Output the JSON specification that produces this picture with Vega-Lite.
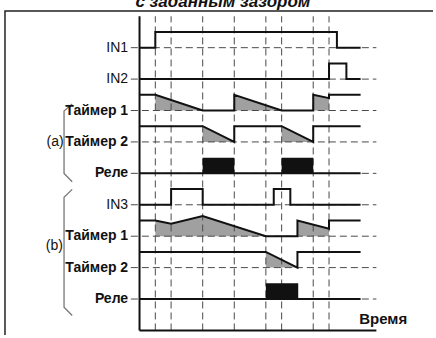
{
  "$schema": "https://vega.github.io/schema/vega-lite/v6.json",
  "width": 436,
  "height": 338,
  "autosize": {"type": "fit", "contains": "padding"},
  "padding": 0,
  "background": "white",
  "config": {"view": {"stroke": null}},
  "datasets": {
    "sig": [
      {"s":"IN1","i":0,"t":0,"v":16},{"s":"IN1","i":1,"t":1,"v":16},{"s":"IN1","i":2,"t":1,"v":17},{"s":"IN1","i":3,"t":12.5,"v":17},{"s":"IN1","i":4,"t":12.5,"v":16},{"s":"IN1","i":5,"t":14,"v":16},
      {"s":"IN2","i":0,"t":0,"v":14},{"s":"IN2","i":1,"t":12,"v":14},{"s":"IN2","i":2,"t":12,"v":15},{"s":"IN2","i":3,"t":13.1,"v":15},{"s":"IN2","i":4,"t":13.1,"v":14},{"s":"IN2","i":5,"t":14,"v":14},
      {"s":"T1a","i":0,"t":0,"v":13},{"s":"T1a","i":1,"t":1,"v":13},{"s":"T1a","i":2,"t":4,"v":12},{"s":"T1a","i":3,"t":6,"v":12},{"s":"T1a","i":4,"t":6,"v":13},{"s":"T1a","i":5,"t":9,"v":12},{"s":"T1a","i":6,"t":11,"v":12},{"s":"T1a","i":7,"t":11,"v":13},{"s":"T1a","i":8,"t":12,"v":12.79},{"s":"T1a","i":9,"t":12,"v":13},{"s":"T1a","i":10,"t":14,"v":13},
      {"s":"T2a","i":0,"t":0,"v":11},{"s":"T2a","i":1,"t":4,"v":11},{"s":"T2a","i":2,"t":6,"v":10},{"s":"T2a","i":3,"t":6,"v":11},{"s":"T2a","i":4,"t":9,"v":11},{"s":"T2a","i":5,"t":11,"v":10},{"s":"T2a","i":6,"t":11,"v":11},{"s":"T2a","i":7,"t":14,"v":11},
      {"s":"Ra","i":0,"t":0,"v":8},{"s":"Ra","i":1,"t":14,"v":8},
      {"s":"IN3","i":0,"t":0,"v":6},{"s":"IN3","i":1,"t":2,"v":6},{"s":"IN3","i":2,"t":2,"v":7},{"s":"IN3","i":3,"t":4,"v":7},{"s":"IN3","i":4,"t":4,"v":6},{"s":"IN3","i":5,"t":8.5,"v":6},{"s":"IN3","i":6,"t":8.5,"v":7},{"s":"IN3","i":7,"t":9.55,"v":7},{"s":"IN3","i":8,"t":9.55,"v":6},{"s":"IN3","i":9,"t":14,"v":6},
      {"s":"T1b","i":0,"t":0,"v":5},{"s":"T1b","i":1,"t":1,"v":5},{"s":"T1b","i":2,"t":2,"v":4.79},{"s":"T1b","i":3,"t":4,"v":5.28},{"s":"T1b","i":4,"t":8,"v":4},{"s":"T1b","i":5,"t":10,"v":4},{"s":"T1b","i":6,"t":10,"v":5},{"s":"T1b","i":7,"t":12,"v":4.48},{"s":"T1b","i":8,"t":12,"v":5},{"s":"T1b","i":9,"t":14,"v":5},
      {"s":"T2b","i":0,"t":0,"v":3},{"s":"T2b","i":1,"t":8,"v":3},{"s":"T2b","i":2,"t":10,"v":2},{"s":"T2b","i":3,"t":10,"v":3},{"s":"T2b","i":4,"t":14,"v":3},
      {"s":"Rb","i":0,"t":0,"v":0},{"s":"Rb","i":1,"t":14,"v":0}
    ],
    "hatch": [
      {"g":"A1","t":1,"v":13,"b":12},{"g":"A1","t":4,"v":12,"b":12},
      {"g":"A2","t":6,"v":13,"b":12},{"g":"A2","t":9,"v":12,"b":12},
      {"g":"A3","t":11,"v":13,"b":12},{"g":"A3","t":12,"v":12.79,"b":12},
      {"g":"B1","t":4,"v":11,"b":10},{"g":"B1","t":6,"v":10,"b":10},
      {"g":"B2","t":9,"v":11,"b":10},{"g":"B2","t":11,"v":10,"b":10},
      {"g":"C1","t":1,"v":5,"b":4},{"g":"C1","t":2,"v":4.79,"b":4},{"g":"C1","t":4,"v":5.28,"b":4},{"g":"C1","t":8,"v":4,"b":4},
      {"g":"C2","t":10,"v":5,"b":4},{"g":"C2","t":12,"v":4.48,"b":4},
      {"g":"D1","t":8,"v":3,"b":2},{"g":"D1","t":10,"v":2,"b":2}
    ],
    "relay": [
      {"t":4,"t2":6,"v":8,"v2":9},
      {"t":9,"t2":11,"v":8,"v2":9},
      {"t":8,"t2":10.05,"v":0,"v2":1}
    ],
    "levels": [
      {"name":"IN1","v":16,"bold":false},
      {"name":"IN2","v":14,"bold":false},
      {"name":"Таймер 1","v":12,"bold":true},
      {"name":"Таймер 2","v":10,"bold":true},
      {"name":"Реле","v":8,"bold":true},
      {"name":"IN3","v":6,"bold":false},
      {"name":"Таймер 1","v":4,"bold":true},
      {"name":"Таймер 2","v":2,"bold":true},
      {"name":"Реле","v":0,"bold":true}
    ],
    "ticks": [{"t":1},{"t":2},{"t":4},{"t":6},{"t":8},{"t":9},{"t":11},{"t":12}],
    "axes": [{"t":0,"t2":0,"v":-2,"v2":18},{"t":0,"t2":15,"v":-2,"v2":-2}],
    "braces": [
      {"g":"a","i":0,"t":-4.264,"v":12.41},{"g":"a","i":1,"t":-4.78,"v":11.97},{"g":"a","i":2,"t":-4.78,"v":7.99},{"g":"a","i":3,"t":-4.264,"v":7.47},
      {"g":"b","i":0,"t":-4.264,"v":6.98},{"g":"b","i":1,"t":-4.78,"v":6.48},{"g":"b","i":2,"t":-4.78,"v":-0.52},{"g":"b","i":3,"t":-4.264,"v":-1.05}
    ],
    "frame": [
      {"i":0,"t":-8.52,"v":-2.29},{"i":1,"t":-8.52,"v":18.34},{"i":2,"t":18.585,"v":18.34}
    ],
    "notes": [
      {"text":"(a)","t":-4.8,"v":10},
      {"text":"(b)","t":-4.85,"v":3.35}
    ]
  },
  "layer": [
    {
      "data": {"name":"frame"},
      "mark": {"type":"line","color":"#222222","strokeWidth":1.5},
      "encoding": {
        "x": {"field":"t","type":"quantitative","scale":{"domain":[-8.836,18.585],"nice":false,"zero":false},"axis":null},
        "y": {"field":"v","type":"quantitative","scale":{"domain":[-2.29,19.035],"nice":false,"zero":false},"axis":null},
        "order":{"field":"i","type":"quantitative"}
      }
    },
    {
      "data": {"name":"hatch"},
      "mark": {"type":"area","color":"#a0a0a0","opacity":1},
      "encoding": {
        "x": {"field":"t","type":"quantitative","scale":{"domain":[-8.836,18.585],"nice":false,"zero":false},"axis":null},
        "y": {"field":"v","type":"quantitative","scale":{"domain":[-2.29,19.035],"nice":false,"zero":false},"axis":null},
        "y2":{"field":"b"},
        "detail":{"field":"g","type":"nominal"}
      }
    },
    {
      "data": {"name":"levels"},
      "mark": {"type":"rule","color":"#4a4a4a","strokeWidth":1,"strokeDash":[7,4]},
      "encoding": {
        "x":{"datum":-0.55,"type":"quantitative","scale":{"domain":[-8.836,18.585],"nice":false,"zero":false},"axis":null},
        "x2":{"datum":15},
        "y": {"field":"v","type":"quantitative","scale":{"domain":[-2.29,19.035],"nice":false,"zero":false},"axis":null}
      }
    },
    {
      "data": {"name":"ticks"},
      "mark": {"type":"rule","color":"#4a4a4a","strokeWidth":1,"strokeDash":[7,4]},
      "encoding": {
        "x": {"field":"t","type":"quantitative","scale":{"domain":[-8.836,18.585],"nice":false,"zero":false},"axis":null},
        "y":{"datum":-2,"type":"quantitative","scale":{"domain":[-2.29,19.035],"nice":false,"zero":false},"axis":null},
        "y2":{"datum":18}
      }
    },
    {
      "data": {"name":"axes"},
      "mark": {"type":"rule","color":"#111111","strokeWidth":2},
      "encoding": {
        "x": {"field":"t","type":"quantitative","scale":{"domain":[-8.836,18.585],"nice":false,"zero":false},"axis":null},
        "y": {"field":"v","type":"quantitative","scale":{"domain":[-2.29,19.035],"nice":false,"zero":false},"axis":null},
        "x2":{"field":"t2"},
        "y2":{"field":"v2"}
      }
    },
    {
      "data": {"name":"relay"},
      "mark": {"type":"rect","color":"#111111"},
      "encoding": {
        "x": {"field":"t","type":"quantitative","scale":{"domain":[-8.836,18.585],"nice":false,"zero":false},"axis":null},
        "y": {"field":"v","type":"quantitative","scale":{"domain":[-2.29,19.035],"nice":false,"zero":false},"axis":null},
        "x2":{"field":"t2"},
        "y2":{"field":"v2"}
      }
    },
    {
      "data": {"name":"sig"},
      "mark": {"type":"line","color":"#111111","strokeWidth":2},
      "encoding": {
        "x": {"field":"t","type":"quantitative","scale":{"domain":[-8.836,18.585],"nice":false,"zero":false},"axis":null},
        "y": {"field":"v","type":"quantitative","scale":{"domain":[-2.29,19.035],"nice":false,"zero":false},"axis":null},
        "detail":{"field":"s","type":"nominal"},
        "order":{"field":"i","type":"quantitative"}
      }
    },
    {
      "data": {"name":"braces"},
      "mark": {"type":"line","color":"#777777","strokeWidth":1.3},
      "encoding": {
        "x": {"field":"t","type":"quantitative","scale":{"domain":[-8.836,18.585],"nice":false,"zero":false},"axis":null},
        "y": {"field":"v","type":"quantitative","scale":{"domain":[-2.29,19.035],"nice":false,"zero":false},"axis":null},
        "detail":{"field":"g","type":"nominal"},
        "order":{"field":"i","type":"quantitative"}
      }
    },
    {
      "data": {"name":"levels"},
      "transform": [{"filter":"!datum.bold"}],
      "mark": {"type":"text","align":"right","baseline":"middle","font":"Liberation Sans","fontSize":14,"color":"#111111"},
      "encoding": {
        "x":{"datum":-0.72,"type":"quantitative","scale":{"domain":[-8.836,18.585],"nice":false,"zero":false},"axis":null},
        "y": {"field":"v","type":"quantitative","scale":{"domain":[-2.29,19.035],"nice":false,"zero":false},"axis":null},
        "text":{"field":"name"}
      }
    },
    {
      "data": {"name":"levels"},
      "transform": [{"filter":"datum.bold"}],
      "mark": {"type":"text","align":"right","baseline":"middle","font":"Liberation Sans","fontSize":14,"fontWeight":"bold","color":"#111111"},
      "encoding": {
        "x":{"datum":-0.72,"type":"quantitative","scale":{"domain":[-8.836,18.585],"nice":false,"zero":false},"axis":null},
        "y": {"field":"v","type":"quantitative","scale":{"domain":[-2.29,19.035],"nice":false,"zero":false},"axis":null},
        "text":{"field":"name"}
      }
    },
    {
      "data": {"name":"notes"},
      "mark": {"type":"text","align":"right","baseline":"middle","font":"Liberation Sans","fontSize":14,"color":"#111111"},
      "encoding": {
        "x": {"field":"t","type":"quantitative","scale":{"domain":[-8.836,18.585],"nice":false,"zero":false},"axis":null},
        "y": {"field":"v","type":"quantitative","scale":{"domain":[-2.29,19.035],"nice":false,"zero":false},"axis":null},
        "text":{"field":"text"}
      }
    },
    {
      "data": {"values":[{"text":"Время","t":13.91,"v":-1.3}]},
      "mark": {"type":"text","align":"left","baseline":"middle","font":"Liberation Sans","fontSize":15,"fontWeight":"bold","color":"#111111"},
      "encoding": {
        "x": {"field":"t","type":"quantitative","scale":{"domain":[-8.836,18.585],"nice":false,"zero":false},"axis":null},
        "y": {"field":"v","type":"quantitative","scale":{"domain":[-2.29,19.035],"nice":false,"zero":false},"axis":null},
        "text":{"field":"text"}
      }
    },
    {
      "data": {"values":[{"text":"с заданным зазором","t":5.28,"v":18.62}]},
      "mark": {"type":"text","align":"center","baseline":"alphabetic","font":"Liberation Sans","fontSize":17,"fontWeight":"bold","fontStyle":"italic","color":"#111111","clip":true},
      "encoding": {
        "x": {"field":"t","type":"quantitative","scale":{"domain":[-8.836,18.585],"nice":false,"zero":false},"axis":null},
        "y": {"field":"v","type":"quantitative","scale":{"domain":[-2.29,19.035],"nice":false,"zero":false},"axis":null},
        "text":{"field":"text"}
      }
    }
  ]
}
